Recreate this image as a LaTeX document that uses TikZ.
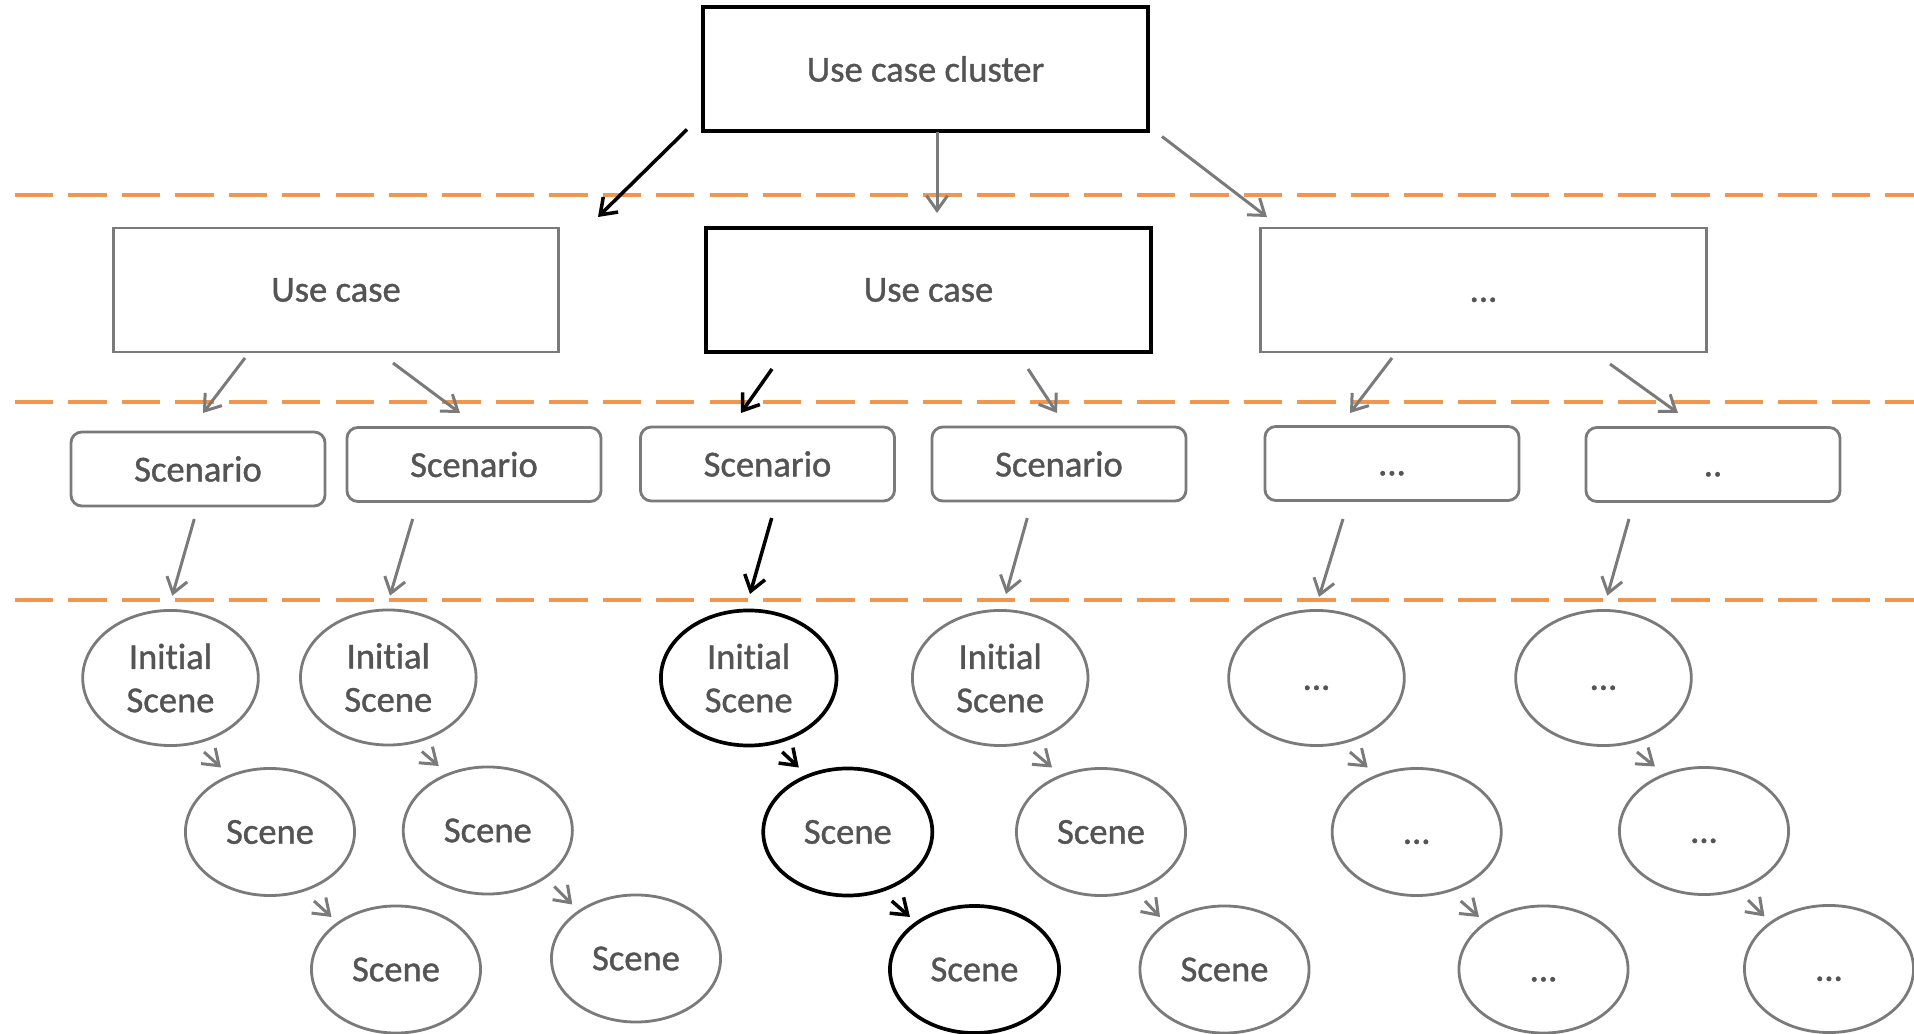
\documentclass[tikz,border=0pt]{standalone}
\usepackage{fontspec}
\setmainfont{Carlito}[Ligatures=NoCommon, FakeBold=1.1]
\usetikzlibrary{arrows.meta,shapes.geometric,calc}
\definecolor{txtgray}{RGB}{84,84,84}
\definecolor{linegray}{RGB}{122,122,122}
\definecolor{dashorange}{RGB}{241,150,79}
\begin{document}
\begin{tikzpicture}[x=0.01cm,y=-0.01cm,
  every node/.style={font=\fontsize{10.4pt}{12.3pt}\selectfont, text=txtgray, inner sep=0pt},
  bigbox/.style={draw=linegray, line width=0.8pt, minimum width=4.45cm, minimum height=1.24cm},
  hlbox/.style={bigbox, draw=black, line width=1pt},
  scbox/.style={draw=linegray, line width=0.8pt, rounded corners=0.11cm, minimum width=2.54cm, minimum height=0.74cm},
  initell/.style={ellipse, draw=linegray, line width=0.8pt, minimum width=1.755cm, minimum height=1.35cm, align=center},
  sceneell/.style={ellipse, draw=linegray, line width=0.8pt, minimum width=1.69cm, minimum height=1.27cm},
  hl/.style={draw=black, line width=1.05pt},
  dots/.style={text height=6.7pt, text depth=0pt},
  arr/.style={draw=linegray, line width=0.85pt, -{Straight Barb[length=4.2pt,width=6pt]}},
  harr/.style={arr, draw=black, line width=1pt},
  sep/.style={draw=dashorange, line width=1.2pt, dash pattern=on 0.383cm off 0.151cm}
]
\useasboundingbox (0,0) rectangle (1914,1034);

% level separators
\draw[sep] (15,195) -- (1914,195);
\draw[sep] (15,402) -- (1914,402);
\draw[sep] (15,600) -- (1914,600);

% use case cluster and use cases
\node[hlbox, minimum height=1.235cm] (top) at (925.5,69) {Use case cluster};
\node[bigbox] (uc1) at (336,290) {Use case};
\node[hlbox] (uc2) at (928.5,290) {Use case};
\node[bigbox, dots] (uc3) at (1483.5,290) {...};

% scenarios
\node[scbox] (sc1) at (198,469) {Scenario};
\node[scbox] (sc2) at (474,464.5) {Scenario};
\node[scbox] (sc3) at (767.5,464) {Scenario};
\node[scbox] (sc4) at (1059,464) {Scenario};
\node[scbox, dots] (sc5) at (1392,463.5) {...};
\node[scbox, dots] (sc6) at (1713,464.5) {..};

% initial scenes
\node[initell] (i1) at (170.5,678) {Initial\\Scene};
\node[initell] (i2) at (388.3,677.5) {Initial\\Scene};
\node[initell, hl] (i3) at (748.7,678) {Initial\\Scene};
\node[initell] (i4) at (1000.2,678) {Initial\\Scene};
\node[initell, dots] (i5) at (1316.5,678) {...};
\node[initell, dots] (i6) at (1603.5,678) {...};

% second scenes
\node[sceneell] (s1b) at (270,832) {Scene};
\node[sceneell] (s2b) at (487.8,830.5) {Scene};
\node[sceneell, hl] (s3b) at (847.8,832) {Scene};
\node[sceneell] (s4b) at (1101,832) {Scene};
\node[sceneell, dots] (s5b) at (1416.7,832) {...};
\node[sceneell, dots] (s6b) at (1704,831) {...};

% third scenes
\node[sceneell] (s1c) at (396,969.5) {Scene};
\node[sceneell] (s2c) at (636,958.5) {Scene};
\node[sceneell, hl] (s3c) at (974.5,969.5) {Scene};
\node[sceneell] (s4c) at (1224.5,969.5) {Scene};
\node[sceneell, dots] (s5c) at (1543.5,969.5) {...};
\node[sceneell, dots] (s6c) at (1829,969) {...};

% cluster -> use cases
\draw[harr] ($(top)+(-238.5,60.5)$) -- ($(uc1)+(262,-73)$);
\draw[arr] ($(top)+(11.5,63.5)$) -- ($(uc2)+(8.5,-77)$);
\draw[arr] ($(top)+(236.5,67.5)$) -- ($(uc3)+(-216.5,-73)$);

% use cases -> scenarios
\draw[arr] ($(uc1)+(-91,68)$) -- ($(sc1)+(5,-56)$);
\draw[arr] ($(uc1)+(57,73)$) -- ($(sc2)+(-14,-51.5)$);
\draw[harr] ($(uc2)+(-156.5,79)$) -- ($(sc3)+(-26.5,-51)$);
\draw[arr] ($(uc2)+(99.5,79)$) -- ($(sc4)+(-2,-51)$);
\draw[arr] ($(uc3)+(-91.5,68)$) -- ($(sc5)+(-42,-50.5)$);
\draw[arr] ($(uc3)+(126.5,74)$) -- ($(sc6)+(-35,-51.5)$);

% scenarios -> initial scenes
\draw[arr] ($(sc1)+(-3.7,50)$) -- ($(i1)+(1.8,-82.3)$);
\draw[arr] ($(sc2)+(-61.3,54.5)$) -- ($(i2)+(1.7,-81.8)$);
\draw[harr] ($(sc3)+(4.2,54)$) -- ($(i3)+(1.3,-84)$);
\draw[arr] ($(sc4)+(-31.7,54)$) -- ($(i4)+(5.8,-84)$);
\draw[arr] ($(sc5)+(-49,55.5)$) -- ($(i5)+(2.5,-81)$);
\draw[arr] ($(sc6)+(-84,54.5)$) -- ($(i6)+(3.8,-82.3)$);

% initial scene -> second scene
\foreach \a/\b in {i1/s1b,i2/s2b,i4/s4b,i5/s5b,i6/s6b}
  \draw[arr] ($(\a)+(33.5,74)$) -- ($(\b)+(-49,-64.5)$);
\draw[harr] ($(i3)+(33.5,74)$) -- ($(s3b)+(-49,-64.5)$);

% second scene -> third scene
\foreach \a/\b in {s1b/s1c,s4b/s4c,s5b/s5c,s6b/s6c}
  \draw[arr] ($(\a)+(44,69)$) -- ($(\b)+(-64.5,-52.5)$);
\draw[arr] ($(s2b)+(66.5,56)$) -- ($(s2c)+(-63.7,-54)$);
\draw[harr] ($(s3b)+(44,69)$) -- ($(s3c)+(-64.5,-52.5)$);
\end{tikzpicture}
\end{document}
